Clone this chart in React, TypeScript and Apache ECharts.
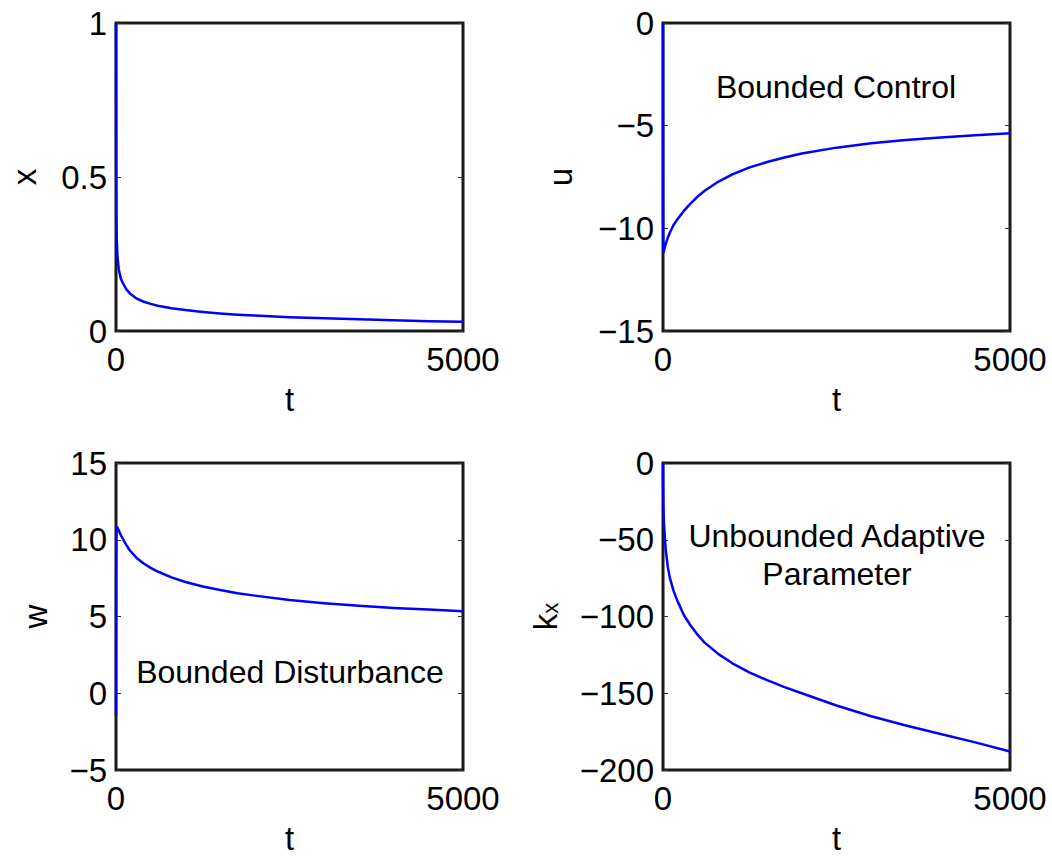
import React, { useEffect, useRef } from "react";
import * as echarts from "echarts";

// time samples (shared by all four panels)
const T = [0, 1, 2, 5, 10, 20, 40, 70, 100, 150, 200, 300, 400, 500, 600, 800, 1000, 1250, 1500, 1750, 2000, 2500, 3000, 3500, 4000, 4500, 5000];

// state x
const xVals = [1, 0.75, 0.55, 0.38, 0.3, 0.245, 0.2, 0.17, 0.155, 0.135, 0.122, 0.105, 0.095, 0.088, 0.082, 0.074, 0.068, 0.062, 0.057, 0.053, 0.05, 0.045, 0.041, 0.038, 0.035, 0.032, 0.03];
// bounded control u
const uVals = [0, -5, -9, -11.1, -11.15, -11.0, -10.75, -10.45, -10.2, -9.85, -9.6, -9.15, -8.78, -8.45, -8.17, -7.72, -7.37, -7.03, -6.77, -6.55, -6.36, -6.07, -5.86, -5.7, -5.58, -5.47, -5.37];
// bounded disturbance w
const wVals = [-1.5, 3, 7, 10.5, 10.85, 10.8, 10.6, 10.3, 10.05, 9.65, 9.3, 8.8, 8.45, 8.17, 7.93, 7.55, 7.25, 6.95, 6.72, 6.52, 6.36, 6.08, 5.87, 5.7, 5.56, 5.45, 5.35];
// adaptive parameter k_x
const kVals = [0, -10, -16, -26, -35, -44, -57, -68, -75, -83, -89, -99, -106, -112, -117, -124.5, -130.5, -136.5, -141.5, -146, -150, -158, -165, -171, -176.5, -182, -188];

// axis ranges / ticks
const xRange = { min: 0, max: 5000, interval: 5000 };
const yRanges = [
  { min: 0, max: 1, interval: 0.5 },
  { min: -15, max: 0, interval: 5 },
  { min: -5, max: 15, interval: 5 },
  { min: -200, max: 0, interval: 50 },
];
const yNames = ["x", "u", "w", "{k|k}{s|x}"];
const xName = "t";
const notes = ["Bounded Control", "Bounded Disturbance", "Unbounded Adaptive\nParameter"];

const FONT = "'Liberation Sans', Arial, sans-serif";

export default function App() {
  const ref = useRef<HTMLDivElement>(null);
  useEffect(() => {
    if (!ref.current) return;
    const chart = echarts.init(ref.current, null, { renderer: "svg" });
    const grids = [
      { left: 116, top: 23, width: 347, height: 308 },
      { left: 663, top: 23, width: 347, height: 308 },
      { left: 116, top: 463, width: 347, height: 309 },
      { left: 663, top: 463, width: 347, height: 309 },
    ].map((g) => ({ ...g, show: true, borderColor: "#1a1a1a", borderWidth: 3, backgroundColor: "transparent" }));

    const nameGaps = [75, 86, 64, 100];
    const labelFmt = (v: number) => String(v).replace("-", "\u2212");
    const xAxes = grids.map((_, i) => ({
      type: "value",
      gridIndex: i,
      ...xRange,
      axisLine: { show: false },
      axisTick: { show: false },
      splitLine: { show: false },
      axisLabel: { margin: 12, fontSize: 33, color: "#000", fontFamily: FONT, formatter: labelFmt },
      name: xName,
      nameLocation: "middle",
      nameGap: 52,
      nameTextStyle: { fontSize: 33, color: "#000", fontFamily: FONT },
    }));
    const yAxes: any[] = [];
    grids.forEach((_, i) => {
      yAxes.push({
        type: "value",
        gridIndex: i,
        position: "left",
        ...yRanges[i],
        axisLine: { show: false },
        axisTick: { show: true, inside: true, length: 5, lineStyle: { color: "#333", width: 1 } },
        splitLine: { show: false },
        axisLabel: { margin: 9, fontSize: 33, color: "#000", fontFamily: FONT, formatter: labelFmt },
        name: yNames[i],
        nameLocation: "middle",
        nameRotate: 90,
        nameGap: nameGaps[i],
        nameTextStyle: {
          fontSize: 33,
          color: "#000",
          fontFamily: FONT,
          rich: {
            k: { fontSize: 33, fontFamily: FONT, color: "#000", lineHeight: 33, verticalAlign: "top", padding: [0, 0, 14, 0] },
            s: { fontSize: 22, fontFamily: FONT, color: "#000", lineHeight: 22, verticalAlign: "bottom" },
          },
        },
      });
      yAxes.push({
        type: "value",
        gridIndex: i,
        position: "right",
        ...yRanges[i],
        axisLine: { show: false },
        axisTick: { show: true, inside: true, length: 5, lineStyle: { color: "#333", width: 1 } },
        splitLine: { show: false },
        axisLabel: { show: false },
      });
    });
    const allVals = [xVals, uVals, wVals, kVals];
    const series = allVals.map((vals, i) => ({
      type: "line",
      xAxisIndex: i,
      yAxisIndex: i * 2,
      data: T.map((t, j) => [t, vals[j]]),
      showSymbol: false,
      clip: false,
      lineStyle: { color: "#0000ff", width: 2.5, join: "round" },
      z: 5,
    }));
    const textStyle = { fill: "#000", font: `32px ${FONT}`, textAlign: "center", textVerticalAlign: "middle" };
    chart.setOption({
      animation: false,
      grid: grids,
      xAxis: xAxes,
      yAxis: yAxes,
      series,
      graphic: [
        { type: "text", x: 836, y: 87, style: { ...textStyle, text: notes[0] } },
        { type: "text", x: 290, y: 672, style: { ...textStyle, text: notes[1] } },
        { type: "text", x: 837, y: 555, style: { ...textStyle, text: notes[2], lineHeight: 38 } },
      ],
    });
    return () => chart.dispose();
  }, []);
  return <div ref={ref} style={{ position: "absolute", left: 0, top: 0, width: 1052, height: 856 }} />;
}
